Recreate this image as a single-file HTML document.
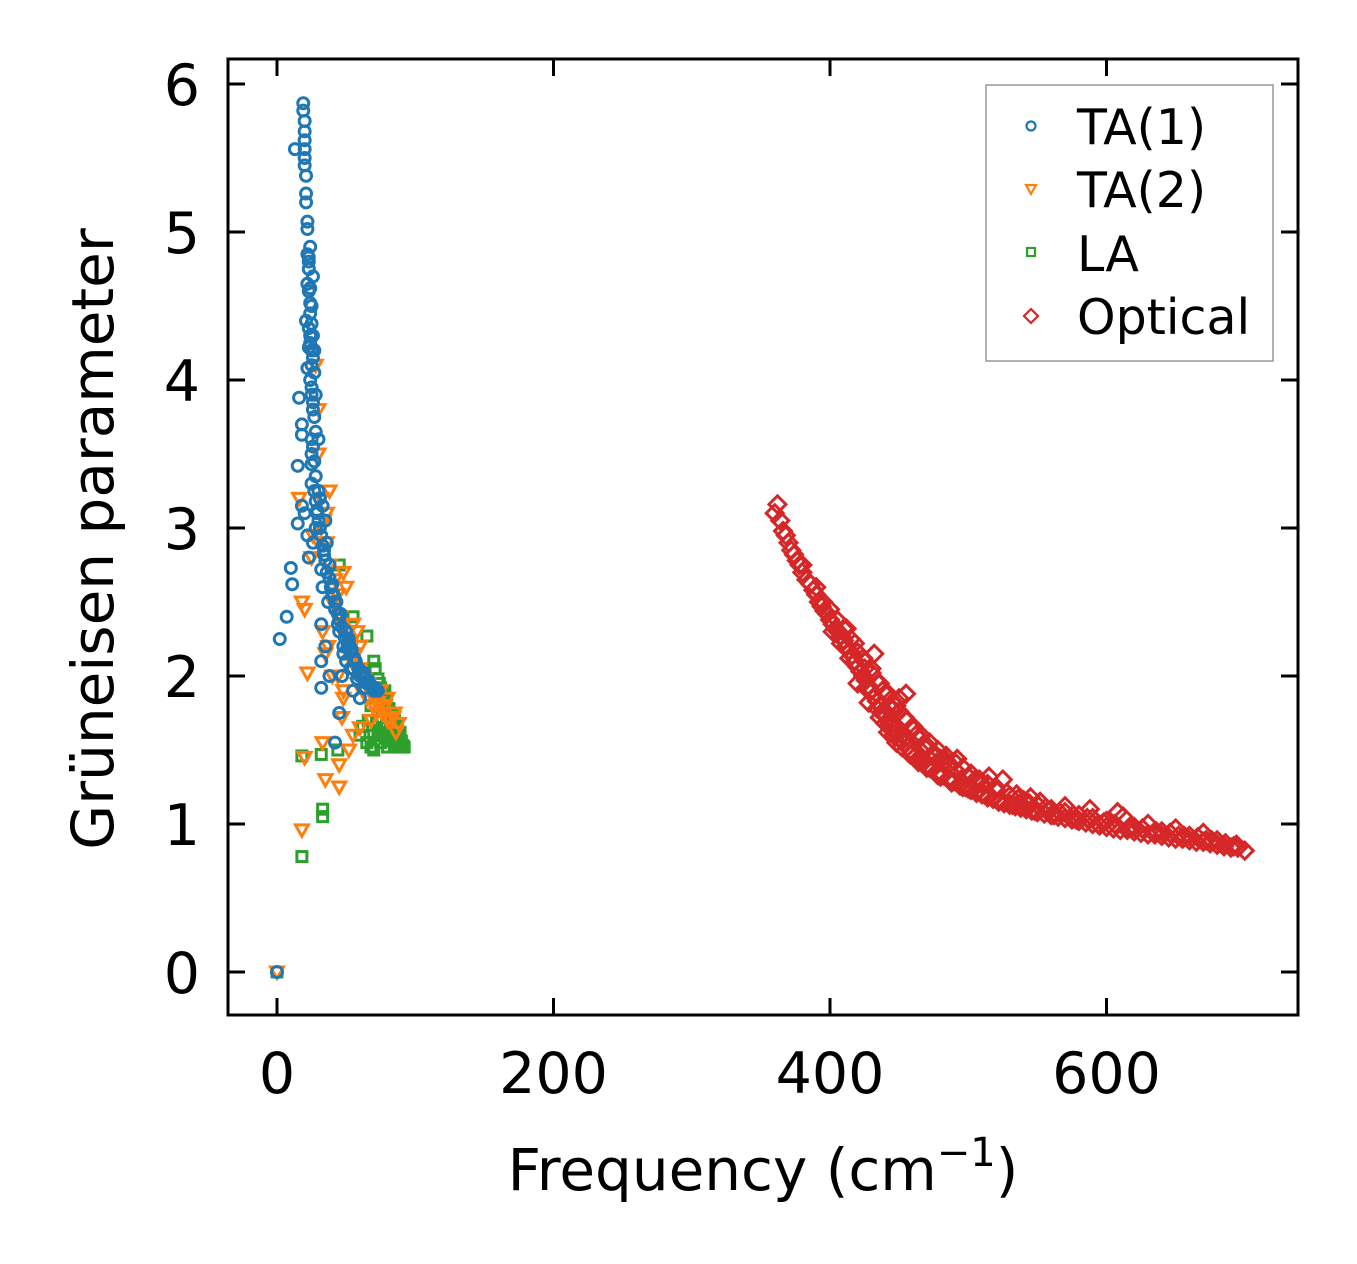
<!DOCTYPE html>
<html><head><meta charset="utf-8"><style>
body{margin:0;background:#fff;}
svg{display:block;font-family:"DejaVu Sans","Liberation Sans",sans-serif;}
</style></head><body>
<svg id="chart" width="1357" height="1264" viewBox="0 0 1357 1264" xmlns="http://www.w3.org/2000/svg">
<rect width="1357" height="1264" fill="#fff"/>
<g id="marks"></g>
<g id="axes"></g>
<text x="763" y="1190" font-size="58" text-anchor="middle">Frequency (cm<tspan dy="-24" font-size="40">−1</tspan><tspan dy="24">)</tspan></text>
<text transform="translate(113,539) rotate(-90)" font-size="58" text-anchor="middle">Grüneisen parameter</text>
<g>
<rect x="986" y="85" width="287" height="276" fill="#fff" stroke="#999" stroke-width="1.5"/>
<circle cx="1031" cy="126" r="4.5" fill="none" stroke="#1f77b4" stroke-width="2.2"/>
<text x="1077" y="144" font-size="49">TA(1)</text>
<path d="M1026,185 L1036,185 L1031,194 Z" fill="none" stroke="#ff7f0e" stroke-width="2.2"/>
<text x="1077" y="207" font-size="49">TA(2)</text>
<rect x="1027" y="248" width="8" height="8" fill="none" stroke="#2ca02c" stroke-width="2.2"/>
<text x="1077" y="271" font-size="49">LA</text>
<path d="M1031,309 L1038,316 L1031,323 L1024,316 Z" fill="none" stroke="#d62728" stroke-width="2.2"/>
<text x="1077" y="334" font-size="49">Optical</text>
</g>
</svg>
<script>
const xTicks=[0,200,400,600];
const yTicks=[0,1,2,3,4,5,6];
const ta1Freq=[19,19,20,20,20,20,13,20,20,21,21,21,22,22,22,23,23,22,23,24,24,21,25,24,23,26,25,22,27,25,16,26,18,18,28,25,25,15,25,31,29,18,20,28,22,15,26,23,32,10,11,33,37,40,42,7,32,45,35,2,48,50,55,32,60,47,65,70,32,55,45,60,42,38,0,24,26,27,28,30,33,35,36,38,40,43,46,50,52,54,57,62,66,68,72,30,34,44,48,53,58,64,
23,24,25,23,24,25,26,24,25,26,27,25,26,27,28,27,28,29,30,31,32,33,34,35,36,38,39,41,42,44,45,47,49,51,53,56,59,61,63,67,69,71,73,52,56,63];
const ta1Gamma=[5.87,5.82,5.75,5.68,5.62,5.56,5.56,5.5,5.45,5.38,5.26,5.2,5.07,5.02,4.85,4.8,4.75,4.65,4.6,4.52,4.45,4.4,4.38,4.3,4.22,4.15,4.1,4.08,4.05,3.95,3.88,3.85,3.7,3.63,3.65,3.5,3.43,3.42,3.3,3.2,3.12,3.15,3.1,3.0,2.95,3.03,2.9,2.8,2.72,2.73,2.62,2.6,2.5,2.55,2.45,2.4,2.35,2.3,2.2,2.25,2.15,2.1,2.05,2.1,2.0,2.0,1.95,1.9,1.92,1.9,1.75,1.85,1.55,2.0,0,4.9,4.7,4.2,3.9,3.25,3.15,3.05,2.9,2.75,2.62,2.5,2.42,2.3,2.22,2.18,2.1,2.02,1.97,1.93,1.9,3.6,2.85,2.35,2.2,2.05,1.98,1.92,
4.83,4.62,4.5,4.35,4.25,4.2,4.3,4.0,3.9,3.8,3.75,3.6,3.55,3.45,3.35,3.25,3.18,3.1,3.05,3.0,2.95,2.88,2.82,2.78,2.7,2.66,2.6,2.55,2.5,2.42,2.38,2.33,2.26,2.2,2.16,2.1,2.05,2.02,1.99,1.95,1.93,1.92,1.9,2.25,2.12,2.02];
const ta2Freq=[0,18,20,16,18,20,22,25,30,33,35,35,38,40,45,45,47,48,50,52,55,55,58,60,62,65,68,70,72,75,78,80,82,85,30,28,32,40,52,58,66,36,42,44,50,54,57,63,67,73,77,84,88,60,48,
30,32,34,36,38,40,44,46,50,54,56,60,64,68,70,74,76,80,86,44,48,33,37,26];
const ta2Gamma=[0,0.96,1.45,3.2,2.5,2.45,2.02,2.8,2.9,1.55,1.3,2.15,3.25,2.0,1.25,1.4,1.72,2.7,2.6,1.5,1.6,2.35,2.3,2.2,2.0,1.85,1.7,1.8,1.75,1.9,1.8,1.85,1.7,1.75,3.8,4.1,3.0,2.5,2.15,1.95,1.95,3.1,2.65,2.4,2.25,2.1,2.05,1.98,1.9,1.82,1.78,1.72,1.68,1.65,1.85,
3.5,3.2,3.05,2.9,2.75,2.6,2.55,2.4,2.3,2.2,2.15,2.05,1.95,1.9,1.85,1.8,1.75,1.7,1.62,2.0,1.9,2.3,2.2,2.95];
const laFreq=[0,18,33,33,18,32,44,55,45,65,70,60,65,70,72,75,78,80,82,85,88,90,75,80,85,70,68,78,83,72,86,88,76,74,79,84,81,87,91,66,62,68,73,77,82,86,
71,73,75,77,79,81,83,85,87,89,74,76,78,80,82,84,86,88,90,92];
const laGamma=[0,0.78,1.05,1.1,1.46,1.47,1.5,2.4,2.75,2.27,2.1,1.6,1.55,1.6,1.7,1.8,1.9,1.75,1.65,1.6,1.55,1.52,1.55,1.52,1.52,1.5,1.52,1.65,1.75,1.85,1.65,1.6,1.72,1.95,1.85,1.68,1.58,1.57,1.53,1.7,1.66,1.8,1.62,1.6,1.62,1.55,
2.05,1.98,1.92,1.88,1.82,1.78,1.72,1.7,1.66,1.62,1.6,1.62,1.58,1.6,1.56,1.58,1.55,1.54,1.56,1.52];
const opticalFreq=[360,362,364,366,368,370,372,374,376,378,380,383,386,388,390,392,394,396,398,400,402,404,406,408,410,412,414,416,418,420,422,424,426,428,430,432,434,436,438,440,442,444,446,448,450,452,454,456,458,460,462,464,466,468,470,474,478,482,486,490,494,498,502,506,510,514,518,522,526,530,534,538,542,546,550,555,560,565,570,575,580,585,590,595,600,605,610,615,620,625,630,635,640,645,650,655,660,665,670,675,680,685,690,695,700,
380,390,400,410,420,425,430,435,440,445,450,455,460,465,470,475,480,485,490,500,510,520,530,540,550,560,570,580,590,600,620,640,660,680,
395,405,415,425,432,438,444,450,455,462,468,476,484,492,505,515,525,535,545,552,570,588,608,612,630,650,670,
420,428,436,442,448,452,458,464,472,480,488,496,
412,418,424,430,436,442,448,454,460,466,472,478,484,490,496,502,508,514,520,528,536,544,556,566,576,586,598,606,618,626,636,646,656,666,676,686,694,
402,408,414,426,434,440,446,452,458,464,470,478,486,494,500,512,524,532,548,562,578,594,616,634,652,672,692];
const opticalGamma=[3.1,3.16,3.05,2.98,2.95,2.9,2.85,2.82,2.78,2.75,2.7,2.65,2.62,2.58,2.55,2.5,2.47,2.44,2.42,2.38,2.35,2.32,2.3,2.27,2.24,2.2,2.17,2.14,2.1,2.06,2.03,2.0,1.97,1.93,1.9,1.86,1.83,1.8,1.76,1.73,1.7,1.67,1.64,1.61,1.58,1.56,1.54,1.52,1.5,1.48,1.46,1.44,1.43,1.42,1.4,1.37,1.35,1.33,1.31,1.29,1.27,1.25,1.23,1.21,1.2,1.18,1.17,1.15,1.14,1.13,1.12,1.11,1.1,1.09,1.08,1.07,1.06,1.05,1.04,1.03,1.02,1.01,1.0,0.99,0.98,0.97,0.96,0.96,0.95,0.94,0.93,0.93,0.92,0.91,0.9,0.9,0.89,0.88,0.88,0.87,0.86,0.85,0.84,0.84,0.82,
2.75,2.6,2.45,2.32,2.16,2.1,2.02,1.95,1.88,1.82,1.76,1.7,1.64,1.58,1.53,1.48,1.44,1.4,1.37,1.32,1.27,1.23,1.19,1.16,1.13,1.1,1.08,1.06,1.04,1.02,0.98,0.95,0.92,0.89,
2.5,2.38,2.25,2.05,2.15,1.9,1.78,1.85,1.88,1.6,1.52,1.45,1.43,1.44,1.3,1.32,1.3,1.2,1.18,1.15,1.12,1.1,1.08,1.05,1.0,0.97,0.94,
1.95,1.82,1.72,1.62,1.55,1.6,1.5,1.42,1.38,1.32,1.28,1.25,
2.32,2.22,2.12,2.05,1.95,1.88,1.8,1.72,1.66,1.6,1.55,1.5,1.46,1.42,1.38,1.34,1.3,1.27,1.25,1.21,1.17,1.14,1.11,1.08,1.06,1.04,1.01,1.0,0.98,0.97,0.95,0.94,0.92,0.91,0.89,0.87,0.86,
2.3,2.22,2.12,1.92,1.78,1.68,1.6,1.52,1.47,1.42,1.38,1.33,1.3,1.26,1.24,1.2,1.16,1.13,1.09,1.06,1.03,1.0,0.97,0.94,0.92,0.89,0.85];

const X0=277,XS=1.3825,Y0=972,YS=148;
const L=228,R=1298,T=59,B=1015;
function sx(v){return X0+v*XS;}
function sy(v){return Y0-v*YS;}
const NS='http://www.w3.org/2000/svg';
const marks=document.getElementById('marks');
const axes=document.getElementById('axes');
function mk(tag,attrs,parent){const e=document.createElementNS(NS,tag);for(const k in attrs)e.setAttribute(k,attrs[k]);parent.appendChild(e);return e;}

for(let i=0;i<laFreq.length;i++){
  const x=sx(laFreq[i]),y=sy(laGamma[i]);
  const e=mk('rect',{x:x-5,y:y-5,width:10,height:10,fill:'none',stroke:'#2ca02c','stroke-width':3},marks);
  
  
}
for(let i=0;i<ta2Freq.length;i++){
  const x=sx(ta2Freq[i]),y=sy(ta2Gamma[i]);
  const e=mk('path',{d:`M${x-6.5},${y-5} L${x+6.5},${y-5} L${x},${y+6.5} Z`,fill:'none',stroke:'#ff7f0e','stroke-width':3},marks);
  
  
}
for(let i=0;i<ta1Freq.length;i++){
  const e=mk('circle',{cx:sx(ta1Freq[i]),cy:sy(ta1Gamma[i]),r:5.5,fill:'none',stroke:'#1f77b4','stroke-width':3},marks);
  
  
}
for(let i=0;i<opticalFreq.length;i++){
  const x=sx(opticalFreq[i]),y=sy(opticalGamma[i]);
  const e=mk('path',{d:`M${x},${y-8.5} L${x+8.5},${y} L${x},${y+8.5} L${x-8.5},${y} Z`,fill:'none',stroke:'#d62728','stroke-width':3},marks);
  
  
}

const frame=mk('rect',{x:L,y:T,width:R-L,height:B-T,fill:'none',stroke:'#000','stroke-width':3},axes);


xTicks.forEach(v=>{
  const x=sx(v);
  mk('line',{x1:x,y1:B,x2:x,y2:B-17,stroke:'#000','stroke-width':3},axes);
  mk('line',{x1:x,y1:T,x2:x,y2:T+17,stroke:'#000','stroke-width':3},axes);
  const t=mk('text',{x:x,y:1093,'font-size':57,'text-anchor':'middle'},axes);
  t.textContent=v;
  
  
});
yTicks.forEach(v=>{
  const y=sy(v);
  mk('line',{x1:L,y1:y,x2:L+17,y2:y,stroke:'#000','stroke-width':3},axes);
  mk('line',{x1:R,y1:y,x2:R-17,y2:y,stroke:'#000','stroke-width':3},axes);
  const t=mk('text',{x:200,y:y+21,'font-size':57,'text-anchor':'end'},axes);
  t.textContent=v;
  
  
});
</script>
</body></html>
